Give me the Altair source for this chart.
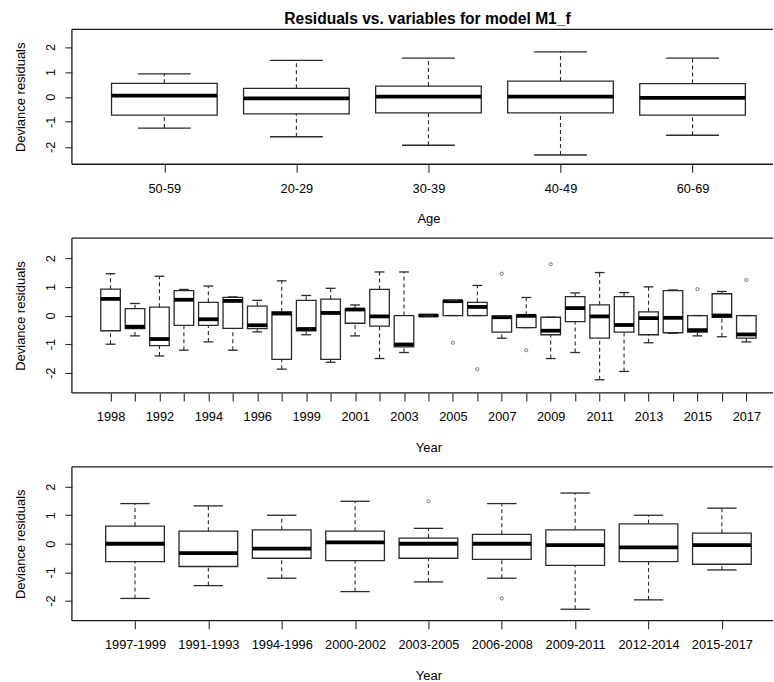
import altair as alt
import pandas as pd

FONT = "Liberation Sans"
W = 702          # visible plot width (the plot region runs past the page edge)
FULL_W = 714     # width of the full plot region
HEIGHTS = [135, 155, 154]
GAP = 74
TOP = 29

TITLE = "Residuals vs. variables for model M1_f"

# ---------------- data: Age ----------------
age_cats = ["50-59", "20-29", "30-39", "40-49", "60-69"]
age_lo  = [-1.25, -1.60, -1.94, -2.33, -1.54]
age_q1  = [-0.73, -0.68, -0.64, -0.64, -0.73]
age_med = [0.05, -0.06, 0.01, 0.01, -0.04]
age_q3  = [0.54, 0.34, 0.43, 0.63, 0.53]
age_hi  = [0.92, 1.46, 1.55, 1.80, 1.55]
age_out_cat = []
age_out_val = []

# ---------------- data: Year ----------------
year_cats = ["1998", "1991", "1992", "1993", "1994", "1995", "1996", "1997",
             "1999", "2000", "2001", "2002", "2003", "2004", "2005", "2006",
             "2007", "2008", "2009", "2010", "2011", "2012", "2013", "2014",
             "2015", "2016", "2017"]
year_lo  = [-1.00, -0.71, -1.41, -1.21, -0.92, -1.21, -0.57, -1.87, -0.67, -1.63,
            -0.71, -1.50, -1.29, -0.01, 0.00, 0.00, -0.79, -0.42, -1.50, -1.29,
            -2.24, -1.95, -0.95, -0.62, -0.71, -0.74, -0.92]
year_q1  = [-0.53, -0.46, -1.05, -0.34, -0.34, -0.45, -0.46, -1.53, -0.53, -1.53,
            -0.27, -0.37, -1.09, -0.01, 0.00, 0.00, -0.58, -0.42, -0.67, -0.21,
            -0.79, -0.58, -0.67, -0.60, -0.58, -0.06, -0.79]
year_med = [0.58, -0.39, -0.82, 0.55, -0.13, 0.51, -0.34, 0.07, -0.47, 0.09,
            0.21, -0.03, -1.01, 0.00, 0.50, 0.30, -0.06, -0.01, -0.53, 0.26,
            -0.03, -0.33, -0.09, -0.08, -0.51, 0.00, -0.66]
year_q3  = [0.92, 0.24, 0.29, 0.87, 0.46, 0.63, 0.33, 0.13, 0.53, 0.57,
            0.23, 0.91, 0.00, 0.01, 0.52, 0.46, -0.02, 0.01, -0.06, 0.66,
            0.37, 0.66, 0.13, 0.87, 0.00, 0.76, 0.00]
year_hi  = [1.46, 0.42, 1.37, 0.91, 1.03, 0.65, 0.53, 1.21, 0.70, 0.95,
            0.37, 1.52, 1.52, 0.01, 0.52, 1.05, -0.02, 0.63, -0.06, 0.79,
            1.50, 0.80, 1.00, 0.89, 0.00, 0.84, 0.00]
year_out_cat = ["2005", "2006", "2007", "2008", "2009", "2015", "2017"]
year_out_val = [-0.95, -1.87, 1.46, -1.21, 1.79, 0.92, 1.24]

# ---------------- data: Year period ----------------
per_cats = ["1997-1999", "1991-1993", "1994-1996", "2000-2002", "2003-2005",
            "2006-2008", "2009-2011", "2012-2014", "2015-2017"]
per_lo  = [-1.92, -1.47, -1.21, -1.68, -1.34, -1.21, -2.30, -1.97, -0.92]
per_q1  = [-0.63, -0.80, -0.51, -0.59, -0.51, -0.55, -0.76, -0.63, -0.72]
per_med = [0.00, -0.33, -0.17, 0.05, 0.00, 0.00, -0.05, -0.13, -0.05]
per_q3  = [0.62, 0.44, 0.49, 0.44, 0.20, 0.33, 0.49, 0.70, 0.37]
per_hi  = [1.41, 1.33, 1.00, 1.49, 0.54, 1.41, 1.78, 1.00, 1.25]
per_out_cat = ["2003-2005", "2006-2008"]
per_out_val = [1.49, -1.92]

LINE = "#2a2a2a"


def panel(cats, lo, q1, med, q3, hi, out_cat, out_val, height, xtitle,
          every=1, title=None, bounds_rect=None):
    n = len(cats)
    d_lo = 0.5 - 0.04 * n
    d_hi_full = n + 0.5 + 0.04 * n
    d_hi = d_lo + (d_hi_full - d_lo) * W / FULL_W

    df = pd.DataFrame({"cat": cats, "pos": list(range(1, n + 1)),
                       "lo": lo, "q1": q1, "med": med, "q3": q3, "hi": hi})
    base = alt.Chart(df).transform_calculate(
        xl="datum.pos - 0.4", xr="datum.pos + 0.4",
        sl="datum.pos - 0.2", sr="datum.pos + 0.2")

    arr = "[" + ",".join("'" + c + "'" for c in cats) + "]"
    if every == 1:
        lab = arr + "[datum.value - 1]"
    else:
        lab = "datum.value % 2 == 1 ? " + arr + "[datum.value - 1] : ''"

    xax = alt.Axis(values=list(range(1, n + 1)), labelExpr=lab, title=xtitle,
                   grid=False, domain=False, tickSize=8, tickColor=LINE,
                   tickWidth=1.1, labelFont=FONT, labelFontSize=12.8,
                   labelColor="black", labelBaseline="alphabetic",
                   labelPadding=20, labelOverlap=False, labelFlush=False,
                   labelBound=False,
                   titleFont=FONT, titleFontSize=13, titleFontWeight="normal",
                   titleColor="black", titleX=FULL_W / 2, titleY=58.5,
                   titleAlign="center", titleBaseline="alphabetic")
    yax = alt.Axis(values=[-2, -1, 0, 1, 2], labelExpr="'' + datum.value",
                   title="Deviance residuals", grid=False, domain=False,
                   tickSize=7, tickColor=LINE, tickWidth=1.1,
                   labelFont=FONT, labelFontSize=12.8, labelColor="black",
                   labelAngle=270, labelAlign="center",
                   labelBaseline="alphabetic", labelPadding=10.3,
                   titleFont=FONT, titleFontSize=13, titleFontWeight="normal",
                   titleColor="black", titleAngle=270, titleAlign="center",
                   titleBaseline="alphabetic", titleX=-47, titleY=height / 2)

    xs = alt.Scale(domain=[d_lo, d_hi], nice=False, zero=False)
    ys = alt.Scale(domain=[-2.7, 2.7], nice=False, zero=False)

    X = lambda f: alt.X(f, type="quantitative", scale=xs, axis=xax)
    Y = lambda f: alt.Y(f, type="quantitative", scale=ys, axis=yax)

    wu = base.mark_rule(color=LINE, strokeWidth=1.1, strokeDash=[4, 3]).encode(
        x=X("pos"), y=Y("q3"), y2="hi")
    wl = base.mark_rule(color=LINE, strokeWidth=1.1, strokeDash=[4, 3]).encode(
        x=X("pos"), y=Y("lo"), y2="q1")
    box = base.mark_rect(fill="white", stroke=LINE, strokeWidth=1.3).encode(
        x=X("xl:Q"), x2="xr:Q", y=Y("q1"), y2="q3")
    md = base.mark_rule(color="black", strokeWidth=3.8).encode(
        x=X("xl:Q"), x2="xr:Q", y=Y("med"))
    st_hi = base.mark_rule(color=LINE, strokeWidth=1.3).encode(
        x=X("sl:Q"), x2="sr:Q", y=Y("hi"))
    st_lo = base.mark_rule(color=LINE, strokeWidth=1.3).encode(
        x=X("sl:Q"), x2="sr:Q", y=Y("lo"))

    layers = [wu, wl, box, md, st_hi, st_lo]

    if out_cat:
        odf = pd.DataFrame({"cat": out_cat, "val": out_val,
                            "pos": [cats.index(c) + 1 for c in out_cat]})
        pts = alt.Chart(odf).mark_point(shape="circle", size=10, filled=False,
                                        stroke=LINE, strokeWidth=0.9).encode(
            x=X("pos"), y=Y("val"))
        layers.append(pts)

    one = pd.DataFrame({"a": [0]})
    frame = alt.Chart(one)
    layers += [
        frame.mark_rule(color="#1a1a1a", strokeWidth=1.3).encode(
            x=alt.value(0), x2=alt.value(W), y=alt.value(0)),
        frame.mark_rule(color="#1a1a1a", strokeWidth=1.3).encode(
            x=alt.value(0), x2=alt.value(W), y=alt.value(height)),
        frame.mark_rule(color="#1a1a1a", strokeWidth=1.3).encode(
            x=alt.value(0), y=alt.value(0), y2=alt.value(height)),
    ]
    if title is not None:
        layers.append(frame.mark_text(
            text=title, font=FONT, fontSize=15.6, fontWeight="bold",
            color="black", align="center", baseline="alphabetic").encode(
            x=alt.value(FULL_W / 2 - 1), y=alt.value(-5)))
    if bounds_rect is not None:
        top, bottom = bounds_rect
        layers.append(frame.mark_rect(opacity=0).encode(
            x=alt.value(-72), x2=alt.value(W),
            y=alt.value(top), y2=alt.value(bottom)))

    return alt.layer(*layers).properties(width=W, height=height)


p1 = panel(age_cats, age_lo, age_q1, age_med, age_q3, age_hi,
           age_out_cat, age_out_val, HEIGHTS[0], "Age", title=TITLE)
p2 = panel(year_cats, year_lo, year_q1, year_med, year_q3, year_hi,
           year_out_cat, year_out_val, HEIGHTS[1], "Year", every=2)
top3 = TOP + HEIGHTS[0] + GAP + HEIGHTS[1] + GAP
p3 = panel(per_cats, per_lo, per_q1, per_med, per_q3, per_hi,
           per_out_cat, per_out_val, HEIGHTS[2], "Year",
           bounds_rect=(-top3, 682 - top3))

chart = alt.vconcat(p1, p2, p3, spacing=GAP, bounds="flush").properties(
    padding=0, background="white"
).configure_view(stroke=None)

chart.save("out.html", embed_options={"renderer": "svg", "actions": False})
